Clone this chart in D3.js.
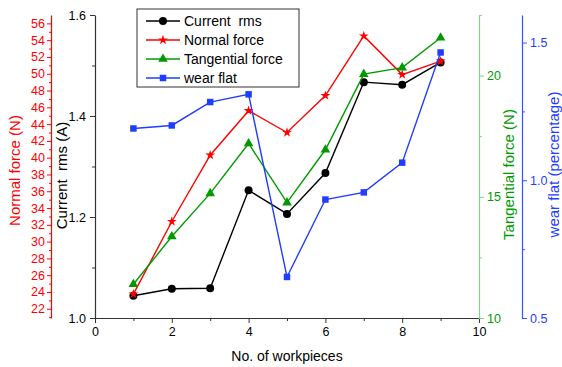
<!DOCTYPE html>
<html>
<head>
<meta charset="utf-8">
<script src="https://cdn.jsdelivr.net/npm/d3@7"></script>
<style>
  html, body { margin: 0; padding: 0; background: #fff; }
  svg { display: block; font-family: "Liberation Sans", Arial, sans-serif; }
</style>
</head>
<body>
<svg id="chart" width="562" height="367"></svg>
<script>
// Measurements per workpiece
const workpieces   = [1, 2, 3, 4, 5, 6, 7, 8, 9];
const currentRms   = [1.044, 1.058, 1.059, 1.253, 1.206, 1.287, 1.467, 1.462, 1.506];
const normalForce  = [23.75, 32.4, 40.3, 45.6, 43.0, 47.4, 54.5, 49.9, 51.5];
const tangential   = [11.39, 13.36, 15.14, 17.2, 14.76, 16.94, 20.06, 20.33, 21.56];
const wearFlat     = [1.188, 1.199, 1.284, 1.312, 0.649, 0.930, 0.956, 1.064, 1.464];

// Tick values for each axis
const xTicks        = [0, 2, 4, 6, 8, 10];
const currentTicks  = [1.0, 1.2, 1.4, 1.6];
const normalTicks   = [22, 24, 26, 28, 30, 32, 34, 36, 38, 40, 42, 44, 46, 48, 50, 52, 54, 56];
const tangTicks     = [10, 15, 20];
const wearTicks     = [0.5, 1.0, 1.5];

const svg = d3.select("#chart");
const plotTop = 15, plotBottom = 318;
const xL = 95, xR = 479;

const x   = d3.scaleLinear().domain([0, 10]).range([xL, xR]);
const yC  = d3.scaleLinear().domain([1.0, 1.6]).range([plotBottom, plotTop]);
const yN  = d3.scaleLinear().domain([20.9, 57]).range([plotBottom, plotTop]);
const yT  = d3.scaleLinear().domain([10, 22.5]).range([plotBottom, plotTop]);
const yW  = d3.scaleLinear().domain([0.5, 1.6]).range([plotBottom, plotTop]);

const RED = "#ff0000", GREEN = "#009a00", GREEN_AX = "#86d386", BLUE = "#1f3dff", BLUE_AX = "#2f55ff";

function styleAxis(g, color, lineColor, size) {
  g.select(".domain").attr("stroke", lineColor).attr("stroke-width", 1.2);
  g.selectAll(".tick line").attr("stroke", lineColor);
  g.selectAll(".tick text").attr("fill", color).attr("font-size", size)
    .attr("font-family", '"Liberation Sans", Arial, sans-serif');
}

// X axis
const gx = svg.append("g").attr("transform", `translate(0,${plotBottom})`)
  .call(d3.axisBottom(x).tickValues(xTicks).tickSize(5).tickPadding(4).tickSizeOuter(0).tickFormat(d3.format("d")));
styleAxis(gx, "#000", "#333", 12.5);
svg.append("g").attr("transform", `translate(0,${plotBottom})`)
  .call(d3.axisBottom(x).tickValues([1, 3, 5, 7, 9]).tickSize(3).tickFormat("").tickSizeOuter(0))
  .call(g => { g.select(".domain").remove(); g.selectAll("line").attr("stroke", "#333"); });
svg.append("text").attr("x", (xL + xR) / 2).attr("y", 361).attr("text-anchor", "middle")
  .attr("font-size", 14).attr("fill", "#000").text("No. of workpieces");

// Current rms axis (left, black)
const gc = svg.append("g").attr("transform", `translate(${xL},0)`)
  .call(d3.axisLeft(yC).tickValues(currentTicks).tickSize(5).tickPadding(4).tickSizeOuter(0).tickFormat(d3.format(".1f")));
styleAxis(gc, "#000", "#333", 12.5);
svg.append("g").attr("transform", `translate(${xL},0)`)
  .call(d3.axisLeft(yC).tickValues([1.1, 1.3, 1.5]).tickSize(3).tickFormat("").tickSizeOuter(0))
  .call(g => { g.select(".domain").remove(); g.selectAll("line").attr("stroke", "#333"); });
svg.append("text").attr("transform", `translate(67,${(plotTop + plotBottom) / 2 + 9}) rotate(-90)`)
  .attr("text-anchor", "middle").attr("font-size", 15).attr("fill", "#000")
  .attr("xml:space", "preserve").style("white-space", "pre").text("Current  rms (A)");

// Normal force axis (outer left, red)
const nx = 51;
const gn = svg.append("g").attr("transform", `translate(${nx},0)`)
  .call(d3.axisLeft(yN).tickValues(normalTicks).tickSize(4).tickPadding(2).tickSizeOuter(0).tickFormat(d3.format("d")));
styleAxis(gn, RED, RED, 12.5);
svg.append("g").attr("transform", `translate(${nx},0)`)
  .call(d3.axisLeft(yN).tickValues(d3.range(21, 57, 2)).tickSize(2).tickFormat("").tickSizeOuter(0))
  .call(g => { g.select(".domain").remove(); g.selectAll("line").attr("stroke", RED); });
svg.append("text").attr("transform", `translate(20,${(plotTop + plotBottom) / 2 + 4}) rotate(-90)`)
  .attr("text-anchor", "middle").attr("font-size", 15).attr("fill", RED).text("Normal force (N)");

// Tangential force axis (right, green)
const gt = svg.append("g").attr("transform", `translate(${xR},0)`)
  .call(d3.axisRight(yT).tickValues(tangTicks).tickSize(5).tickPadding(3).tickSizeOuter(0).tickFormat(d3.format("d")));
styleAxis(gt, GREEN, GREEN_AX, 12.5);
svg.append("g").attr("transform", `translate(${xR},0)`)
  .call(d3.axisRight(yT).tickValues([12.5, 17.5, 22.5]).tickSize(3).tickFormat("").tickSizeOuter(0))
  .call(g => { g.select(".domain").remove(); g.selectAll("line").attr("stroke", GREEN_AX); });
svg.append("text").attr("transform", `translate(514,${(plotTop + plotBottom) / 2 + 8}) rotate(-90)`)
  .attr("text-anchor", "middle").attr("font-size", 15).attr("fill", GREEN).text("Tangential force (N)");

// Wear flat axis (outer right, blue)
const wx = 522;
const gw = svg.append("g").attr("transform", `translate(${wx},0)`)
  .call(d3.axisRight(yW).tickValues(wearTicks).tickSize(5).tickPadding(3).tickSizeOuter(0).tickFormat(d3.format(".1f")));
styleAxis(gw, BLUE, BLUE_AX, 12.5);
svg.append("g").attr("transform", `translate(${wx},0)`)
  .call(d3.axisRight(yW).tickValues([0.75, 1.25]).tickSize(3).tickFormat("").tickSizeOuter(0))
  .call(g => { g.select(".domain").remove(); g.selectAll("line").attr("stroke", BLUE_AX); });
svg.append("text").attr("transform", `translate(559,${(plotTop + plotBottom) / 2 - 2}) rotate(-90)`)
  .attr("text-anchor", "middle").attr("font-size", 15).attr("fill", BLUE).text("wear flat (percentage)");

// Series
const series = [
  { name: "Current  rms",     values: currentRms,  y: yC, color: "#000",  symbol: d3.symbolCircle,   size: 50 },
  { name: "Normal force",     values: normalForce, y: yN, color: RED,     symbol: d3.symbolStar,     size: 30 },
  { name: "Tangential force", values: tangential,  y: yT, color: GREEN,   symbol: d3.symbolTriangle, size: 40 },
  { name: "wear flat",        values: wearFlat,    y: yW, color: BLUE,    symbol: d3.symbolSquare,   size: 42 }
];

const plot = svg.append("g");
series.forEach(s => {
  const pts = workpieces.map((w, i) => [w, s.values[i]]);
  plot.append("path").datum(pts)
    .attr("fill", "none").attr("stroke", s.color).attr("stroke-width", 1.4)
    .attr("d", d3.line().x(d => x(d[0])).y(d => s.y(d[1])));
  plot.selectAll(null).data(pts).enter().append("path")
    .attr("transform", d => `translate(${x(d[0])},${s.y(d[1])})`)
    .attr("d", d3.symbol().type(s.symbol).size(s.size))
    .attr("fill", s.color);
});

// Legend
const lg = svg.append("g").attr("transform", "translate(137,9)");
lg.append("rect").attr("width", 162).attr("height", 78)
  .attr("fill", "#fff").attr("stroke", "#333").attr("stroke-width", 1);
series.forEach((s, i) => {
  const yy = 12 + i * 19;
  lg.append("line").attr("x1", 9).attr("x2", 43).attr("y1", yy).attr("y2", yy)
    .attr("stroke", s.color).attr("stroke-width", 1.4);
  lg.append("path").attr("transform", `translate(26,${yy})`)
    .attr("d", d3.symbol().type(s.symbol).size(s.size)).attr("fill", s.color);
  lg.append("text").attr("x", 47).attr("y", yy + 5).attr("font-size", 14).attr("fill", "#000")
    .attr("xml:space", "preserve").style("white-space", "pre").text(s.name);
});
</script>
</body>
</html>
